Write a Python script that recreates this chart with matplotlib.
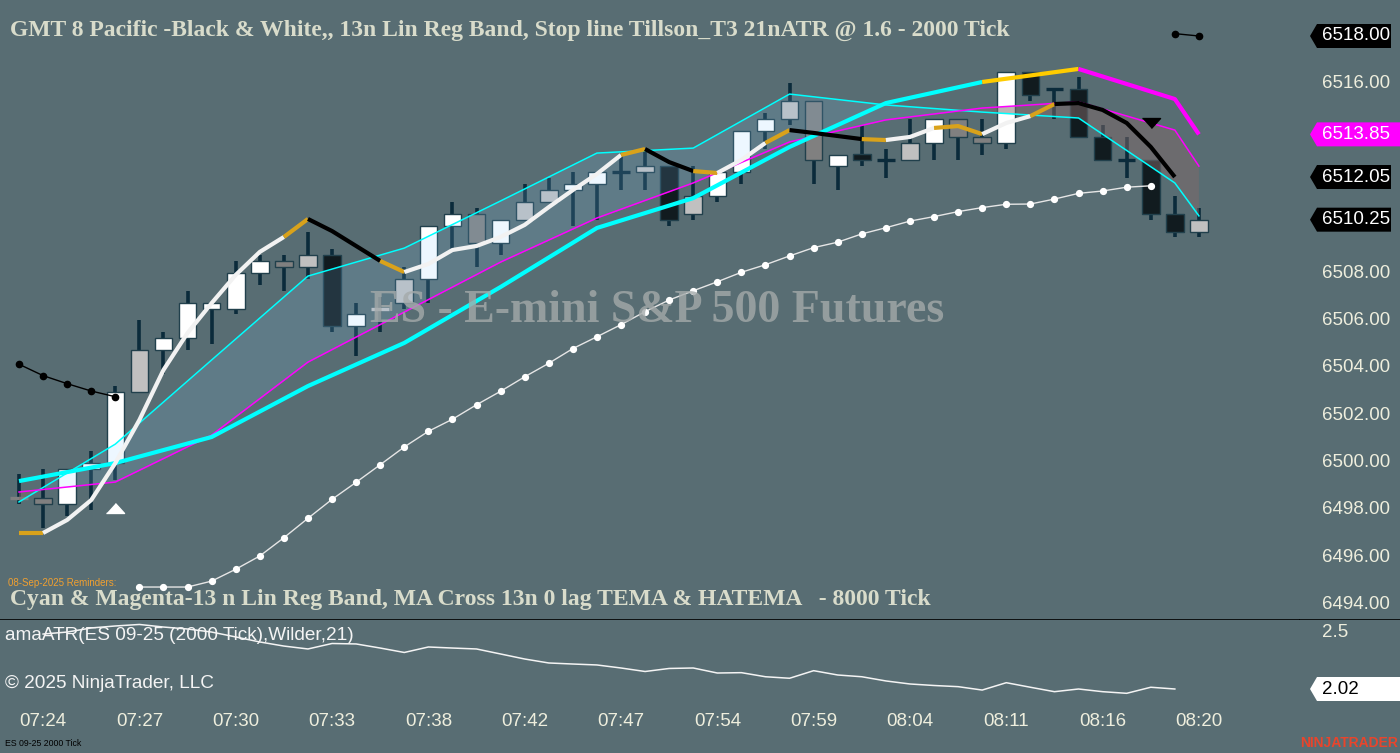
"""
ES 09-25 2000 tick chart with lin-reg band, Tillson T3 stop line and ATR pane,
redrawn in matplotlib.
"""

import numpy as np
import matplotlib.pyplot as plt
from matplotlib.patches import Polygon

# ──────────────────────────────────────────
# Data
# ──────────────────────────────────────────
TIME_LABEL_BARS = [1, 5, 9, 13, 17, 21, 25, 29, 33, 37, 41, 45, 49]
TIME_LABELS = ["07:24", "07:27", "07:30", "07:33", "07:38", "07:42", "07:47",
               "07:54", "07:59", "08:04", "08:11", "08:16", "08:20"]

OPENS = [6498.50, 6498.50, 6498.25, 6499.75, 6500.00, 6503.00, 6504.75, 6505.25,
         6506.50, 6506.50, 6508.00, 6508.50, 6508.25, 6508.75, 6505.75, 6506.50,
         6506.75, 6507.75, 6510.00, 6510.50, 6509.25, 6510.25, 6511.00, 6511.50,
         6511.75, 6512.25, 6512.25, 6512.50, 6510.50, 6511.25, 6512.25, 6514.00,
         6514.50, 6515.25, 6512.50, 6513.00, 6512.75, 6512.75, 6513.50, 6514.50,
         6513.75, 6513.50, 6516.50, 6515.75, 6515.75, 6513.75, 6512.75, 6512.75,
         6510.50, 6509.75]
HIGHS = [6499.50, 6499.75, 6499.75, 6500.50, 6503.25, 6506.00, 6505.50, 6507.25,
         6506.75, 6508.50, 6508.75, 6508.75, 6509.75, 6509.00, 6506.75, 6507.00,
         6508.25, 6510.00, 6511.00, 6510.75, 6510.25, 6511.75, 6512.00, 6512.25,
         6512.25, 6513.00, 6513.25, 6512.50, 6512.50, 6512.25, 6514.00, 6514.75,
         6516.00, 6515.25, 6513.00, 6514.25, 6513.25, 6514.50, 6514.50, 6514.50,
         6514.50, 6516.50, 6516.50, 6515.75, 6516.25, 6514.25, 6513.75, 6512.75,
         6511.25, 6510.75]
LOWS = [6498.25, 6497.25, 6497.75, 6498.00, 6499.25, 6503.00, 6503.75, 6504.75,
        6505.00, 6506.25, 6507.50, 6507.25, 6507.75, 6505.50, 6504.50, 6505.50,
        6506.50, 6506.75, 6509.00, 6508.25, 6508.75, 6510.25, 6511.00, 6510.00,
        6510.25, 6511.50, 6511.50, 6510.00, 6510.25, 6511.00, 6511.75, 6513.25,
        6514.25, 6511.75, 6511.50, 6512.50, 6512.00, 6512.75, 6512.75, 6512.75,
        6513.00, 6513.25, 6515.25, 6514.50, 6513.75, 6512.75, 6512.00, 6510.25,
        6509.50, 6509.50]
CLOSES = [6498.50, 6498.25, 6499.75, 6500.00, 6503.00, 6504.75, 6505.25, 6506.75,
          6506.75, 6508.00, 6508.50, 6508.25, 6508.75, 6505.75, 6506.25, 6506.50,
          6507.75, 6510.00, 6510.50, 6509.25, 6510.25, 6511.00, 6511.50, 6511.75,
          6512.25, 6512.25, 6512.50, 6510.25, 6511.25, 6512.25, 6514.00, 6514.50,
          6515.25, 6512.75, 6513.00, 6512.75, 6512.75, 6513.50, 6514.50, 6513.75,
          6513.50, 6516.50, 6515.50, 6515.75, 6513.75, 6512.75, 6512.75, 6510.50,
          6509.75, 6510.25]
# bar paint state from the "Black & White" indicator: W white, L light, G gray, K black
BAR_SHADE = ["G", "G", "W", "W", "W", "L", "W", "W", "W", "W", "W", "G", "L",
             "K", "W", "L", "L", "W", "W", "G", "W", "L", "L", "W", "W", "K",
             "L", "K", "L", "W", "W", "W", "L", "G", "W", "K", "K", "L", "W",
             "G", "G", "W", "K", "K", "K", "K", "K", "K", "K", "L"]

# Tillson T3 stop line, one value per bar (last bar not yet plotted)
T3_VALUES = [6497.03, 6497.03, 6497.58, 6498.42, 6499.98, 6501.80, 6503.91, 6505.47,
             6506.73, 6507.92, 6508.89, 6509.52, 6510.28, 6509.77, 6509.14, 6508.51,
             6508.04, 6508.38, 6508.97, 6509.14, 6509.52, 6510.03, 6510.78, 6511.50,
             6512.18, 6512.98, 6513.23, 6512.68, 6512.30, 6512.22, 6512.77, 6513.49,
             6514.03, 6513.91, 6513.78, 6513.65, 6513.61, 6513.74, 6514.12, 6514.20,
             6513.86, 6514.33, 6514.62, 6515.13, 6515.17, 6514.88, 6514.33, 6513.32,
             6512.05]
# trend state of each T3 segment: u up, t turning, d down
T3_TREND = ["t", "u", "u", "u", "u", "u", "u", "u", "u", "u", "u", "t", "d", "d",
            "d", "t", "u", "u", "u", "u", "u", "u", "u", "u", "u", "t", "d", "d",
            "t", "u", "u", "t", "d", "d", "d", "t", "u", "u", "t", "t", "u", "u",
            "t", "d", "d", "d", "d", "d"]

# 8000 tick series, sampled every 4th bar on this chart
HTF_BARS = [0, 4, 8, 12, 16, 20, 24, 28, 32, 36, 40, 44, 48, 49]
HATEMA = [6499.22, 6499.98, 6501.08, 6503.23, 6505.05, 6507.41, 6509.90, 6511.16,
          6513.32, 6515.17, 6516.06, 6516.61, 6515.34, 6513.85]
HATEMA_TREND = ["u", "u", "u", "u", "u", "u", "u", "u", "u", "u", "t", "d", "d"]
LINREG_UPPER = [6498.34, 6500.78, 6504.33, 6507.87, 6509.05, 6511.04, 6513.06,
                6513.27, 6515.55, 6515.09, 6514.79, 6514.54, 6511.80, 6510.41]
LINREG_LOWER = [6498.76, 6499.18, 6501.16, 6504.24, 6506.35, 6508.46, 6510.32,
                6511.80, 6513.53, 6514.46, 6514.96, 6515.22, 6514.03, 6512.51]

# ATR trailing stop (white dots), bars 5..47
STOP_BARS = list(range(5, 48))
STOP_VALUES = [6494.75, 6494.75, 6494.75, 6495.00, 6495.50, 6496.06, 6496.83, 6497.65,
               6498.45, 6499.17, 6499.91, 6500.66, 6501.32, 6501.83, 6502.44, 6503.01,
               6503.62, 6504.19, 6504.81, 6505.31, 6505.82, 6506.37, 6506.86, 6507.25,
               6507.63, 6508.03, 6508.35, 6508.72, 6509.07, 6509.30, 6509.65, 6509.91,
               6510.19, 6510.38, 6510.59, 6510.76, 6510.90, 6510.91, 6511.12, 6511.36,
               6511.46, 6511.62, 6511.68]

# short-side stop (black dots)
SHORT_STOP_BARS = [0, 1, 2, 3, 4, 48, 49]
SHORT_STOP_VALUES = [6504.15, 6503.67, 6503.33, 6503.02, 6502.78, 6518.10, 6518.00]

# signal arrows
LONG_SIGNAL = (4, 6498.08)
SHORT_SIGNAL = (47, 6514.35)

# amaATR(21, Wilder), bar 0 has no value
ATR_VALUES = [np.nan, 2.491, 2.508, 2.543, 2.560, 2.573, 2.551, 2.534, 2.508, 2.466,
              2.423, 2.388, 2.363, 2.410, 2.406, 2.371, 2.333, 2.380, 2.371, 2.363,
              2.320, 2.277, 2.243, 2.234, 2.226, 2.200, 2.170, 2.196, 2.200, 2.157,
              2.160, 2.125, 2.112, 2.177, 2.140, 2.125, 2.089, 2.063, 2.050, 2.040,
              2.011, 2.074, 2.035, 1.997, 2.020, 1.997, 1.983, 2.035, 2.020]

PRICE_TICKS = [6494, 6496, 6498, 6500, 6502, 6504, 6506, 6508, 6510, 6512, 6514, 6516, 6518]
ATR_TICKS = [2.0, 2.5]

# ──────────────────────────────────────────
# Style
# ──────────────────────────────────────────
W_PX, H_PX = 1400, 753
BG = "#586d73"
WICK = "#0b2b3b"
BODY_EDGE = "#21404c"
SHADE_COLORS = {"W": "#ffffff", "L": "#c0c0c0", "G": "#808080", "K": "#111b1f"}
T3_COLORS = {"u": "#f2f2f2", "t": "#d9a21b", "d": "#000000"}
HATEMA_COLORS = {"u": "#00ffff", "t": "#ffcc00", "d": "#ff00ff"}
LABEL_COLOR = "#eeeedd"
TITLE_COLOR = "#d9dccb"
SANS = "Liberation Sans"
SERIF = "Liberation Serif"

# pixel layout
PLOT_RIGHT = 1300
MAIN_BOTTOM = 620
ATR_BOTTOM = 706
BAR0_X, BAR_STEP = 19, 24.08
PX_PER_POINT = 23.7
PRICE_AT_36 = 6518.0
ATR_PX_PER_UNIT = 116.7


def price_at(py):
    return PRICE_AT_36 - (py - 36) / PX_PER_POINT


def atr_at(py):
    return 2.02 + (689 - py) / ATR_PX_PER_UNIT


def fx(px):
    return px / W_PX


def fy(py):
    return 1 - py / H_PX


def plot_runs(ax, xs, ys, states, colors, lw, z):
    """Draw a polyline whose segments are coloured by state, one run at a time."""
    start = 0
    for i in range(1, len(states) + 1):
        if i == len(states) or states[i] != states[start]:
            ax.plot(xs[start:i + 1], ys[start:i + 1], color=colors[states[start]],
                    lw=lw, solid_capstyle="butt", solid_joinstyle="round", zorder=z)
            start = i


def arrow_box(ax, value, half_h, fc, right):
    pts = [(10, value), (17, value + half_h), (right, value + half_h),
           (right, value - half_h), (17, value - half_h)]
    ax.add_patch(Polygon(pts, closed=True, fc=fc, ec="none", zorder=5))


def scale_labels(ax, ticks, boxes, half_h, fmt):
    """Tick labels on a price scale, leaving out the ones a value box covers."""
    for t in ticks:
        if any(abs(t - b) < 1.6 * half_h for b in boxes):
            continue
        ax.text(22, t, fmt(t), color=LABEL_COLOR, fontsize=13.5, family=SANS,
                va="center", ha="left", zorder=3)


fig = plt.figure(figsize=(W_PX / 100, H_PX / 100), dpi=100, facecolor=BG)

x_left = -BAR0_X / BAR_STEP
x_right = (PLOT_RIGHT - BAR0_X) / BAR_STEP

ax = fig.add_axes([0, fy(MAIN_BOTTOM), fx(PLOT_RIGHT), MAIN_BOTTOM / H_PX], facecolor=BG)
ax_px = fig.add_axes([fx(PLOT_RIGHT), fy(MAIN_BOTTOM), 1 - fx(PLOT_RIGHT), MAIN_BOTTOM / H_PX],
                     facecolor=BG)
ax_atr = fig.add_axes([0, fy(ATR_BOTTOM), fx(PLOT_RIGHT), (ATR_BOTTOM - MAIN_BOTTOM) / H_PX],
                      facecolor=BG)
ax_atr_px = fig.add_axes([fx(PLOT_RIGHT), fy(ATR_BOTTOM), 1 - fx(PLOT_RIGHT),
                          (ATR_BOTTOM - MAIN_BOTTOM) / H_PX], facecolor=BG)

price_lim = (price_at(MAIN_BOTTOM), price_at(0))
atr_lim = (atr_at(ATR_BOTTOM), atr_at(MAIN_BOTTOM))

for a in (ax, ax_px, ax_atr, ax_atr_px):
    for side in ("top", "left", "right", "bottom"):
        a.spines[side].set_visible(False)
    a.set_xticks([])
    a.set_yticks([])
for a in (ax, ax_px):
    a.spines["bottom"].set_visible(True)
    a.spines["bottom"].set_color("black")
    a.spines["bottom"].set_linewidth(1.2)

ax.set_xlim(x_left, x_right)
ax.set_ylim(*price_lim)
ax_px.set_xlim(0, 100)
ax_px.set_ylim(*price_lim)
ax_atr.set_xlim(x_left, x_right)
ax_atr.set_ylim(*atr_lim)
ax_atr_px.set_xlim(0, 100)
ax_atr_px.set_ylim(*atr_lim)

# ──────────────────────────────────────────
# Candles
# ──────────────────────────────────────────
idx = np.arange(len(OPENS))
opens = np.array(OPENS)
closes = np.array(CLOSES)
ax.vlines(idx, LOWS, HIGHS, color=WICK, lw=2.6, zorder=2)

body_w = 0.73
for i in idx:
    lo, hi = min(opens[i], closes[i]), max(opens[i], closes[i])
    shade = BAR_SHADE[i]
    if hi - lo < 1e-9:
        dash = WICK if shade == "K" else SHADE_COLORS[shade]
        ax.hlines(lo, i - body_w / 2, i + body_w / 2, color=dash, lw=2.4, zorder=3)
    else:
        ax.bar(i, hi - lo, bottom=lo, width=body_w, color=SHADE_COLORS[shade],
               edgecolor=BODY_EDGE, linewidth=1.0, zorder=3)

# ──────────────────────────────────────────
# Lin reg band + moving averages
# ──────────────────────────────────────────
upper = np.array(LINREG_UPPER)
lower = np.array(LINREG_LOWER)
ax.fill_between(HTF_BARS, upper, lower, where=upper >= lower, interpolate=True,
                color="#8ccdff", alpha=0.15, lw=0, zorder=4)
ax.fill_between(HTF_BARS, upper, lower, where=upper < lower, interpolate=True,
                color="#806a6a", alpha=0.5, lw=0, zorder=4)
ax.plot(HTF_BARS, LINREG_UPPER, color="#00ffff", lw=1.1, zorder=5)
ax.plot(HTF_BARS, LINREG_LOWER, color="#ff00ff", lw=1.1, zorder=5)
plot_runs(ax, HTF_BARS, HATEMA, HATEMA_TREND, HATEMA_COLORS, 3.0, 6)

# Tillson T3 stop line
plot_runs(ax, idx[:len(T3_VALUES)], T3_VALUES, T3_TREND, T3_COLORS, 3.0, 7)

# trailing stops
ax.plot(STOP_BARS, STOP_VALUES, "-o", color="#e6e6e6", lw=1.0, ms=4.2,
        mfc="white", mec="white", zorder=6)
ax.plot(SHORT_STOP_BARS[:5], SHORT_STOP_VALUES[:5], "-o", color="black", lw=1.0,
        ms=4.5, zorder=6)
ax.plot(SHORT_STOP_BARS[5:], SHORT_STOP_VALUES[5:], "-o", color="black", lw=1.0,
        ms=4.5, zorder=6)

# signal triangles
tri_up = [(-1, -0.55), (1, -0.55), (0, 0.55)]
tri_dn = [(-1, 0.55), (1, 0.55), (0, -0.55)]
ax.plot(*LONG_SIGNAL, marker=tri_up, ms=13, color="white", mec="white", zorder=8)
ax.plot(*SHORT_SIGNAL, marker=tri_dn, ms=13, color="black", mec="black", zorder=8)

# ──────────────────────────────────────────
# Price scale
# ──────────────────────────────────────────
half_h = 12 / PX_PER_POINT
price_boxes = [
    (SHORT_STOP_VALUES[-1], "black", 91),
    (HATEMA[-1], "#ff00ff", 100),
    (T3_VALUES[-1], "black", 91),
    (CLOSES[-1], "black", 91),
]
scale_labels(ax_px, PRICE_TICKS, [b[0] for b in price_boxes], half_h,
             lambda p: f"{p:.2f}")
for value, fc, right in price_boxes:
    arrow_box(ax_px, value, half_h, fc, right)
    ax_px.text(22, value, f"{value:.2f}", color="white", fontsize=13.5, family=SANS,
               va="center", ha="left", zorder=6)

# ──────────────────────────────────────────
# ATR pane
# ──────────────────────────────────────────
ax_atr.plot(idx[:len(ATR_VALUES)], ATR_VALUES, color="#f4f4f4", lw=1.1, zorder=3)
ax_atr.set_xticks(TIME_LABEL_BARS)
ax_atr.set_xticklabels(TIME_LABELS, family=SANS, fontsize=13.5, color=LABEL_COLOR)
ax_atr.tick_params(axis="x", length=0, pad=5)

last_atr = ATR_VALUES[-1]
atr_half_h = 12 / ATR_PX_PER_UNIT
scale_labels(ax_atr_px, ATR_TICKS, [last_atr], atr_half_h, lambda t: f"{t:g}")
arrow_box(ax_atr_px, last_atr, atr_half_h, "white", 100)
ax_atr_px.text(22, last_atr, f"{last_atr:.2f}", color="black", fontsize=13.5,
               family=SANS, va="center", ha="left", zorder=6)

# ──────────────────────────────────────────
# Texts
# ──────────────────────────────────────────
fig.text(fx(10), fy(30),
         "GMT 8 Pacific -Black & White,, 13n Lin Reg Band, Stop line Tillson_T3 21nATR @ 1.6 - 2000 Tick",
         family=SERIF, weight="bold", fontsize=17, color=TITLE_COLOR, va="center")
fig.text(fx(657), fy(311), "ES - E-mini S&P 500 Futures", family=SERIF, weight="bold",
         fontsize=33, color="#a4aaaa", alpha=0.8, ha="center", va="center", zorder=20)
fig.text(fx(8), fy(583), "08-Sep-2025 Reminders:", family=SANS, fontsize=7,
         color="#f0a030", va="center")
fig.text(fx(10), fy(599),
         "Cyan & Magenta-13 n Lin Reg Band, MA Cross 13n 0 lag TEMA & HATEMA   - 8000 Tick",
         family=SERIF, weight="bold", fontsize=17, color=TITLE_COLOR, va="center")
fig.text(fx(5), fy(636), "amaATR(ES 09-25 (2000 Tick),Wilder,21)", family=SANS,
         fontsize=13.7, color="#f4f4f4", va="center")
fig.text(fx(5), fy(683), "\u00a9 2025 NinjaTrader, LLC", family=SANS, fontsize=13.7,
         color="#f4f4f4", va="center")
fig.text(fx(5), fy(743), "ES 09-25 2000 Tick", family=SANS, fontsize=6.3, color="black",
         va="center")
fig.text(fx(1398), fy(743), "NINJATRADER", family=SANS, weight="bold", fontsize=10,
         color="#e8452c", ha="right", va="center")

fig.savefig("out.png", dpi=100, facecolor=BG)
